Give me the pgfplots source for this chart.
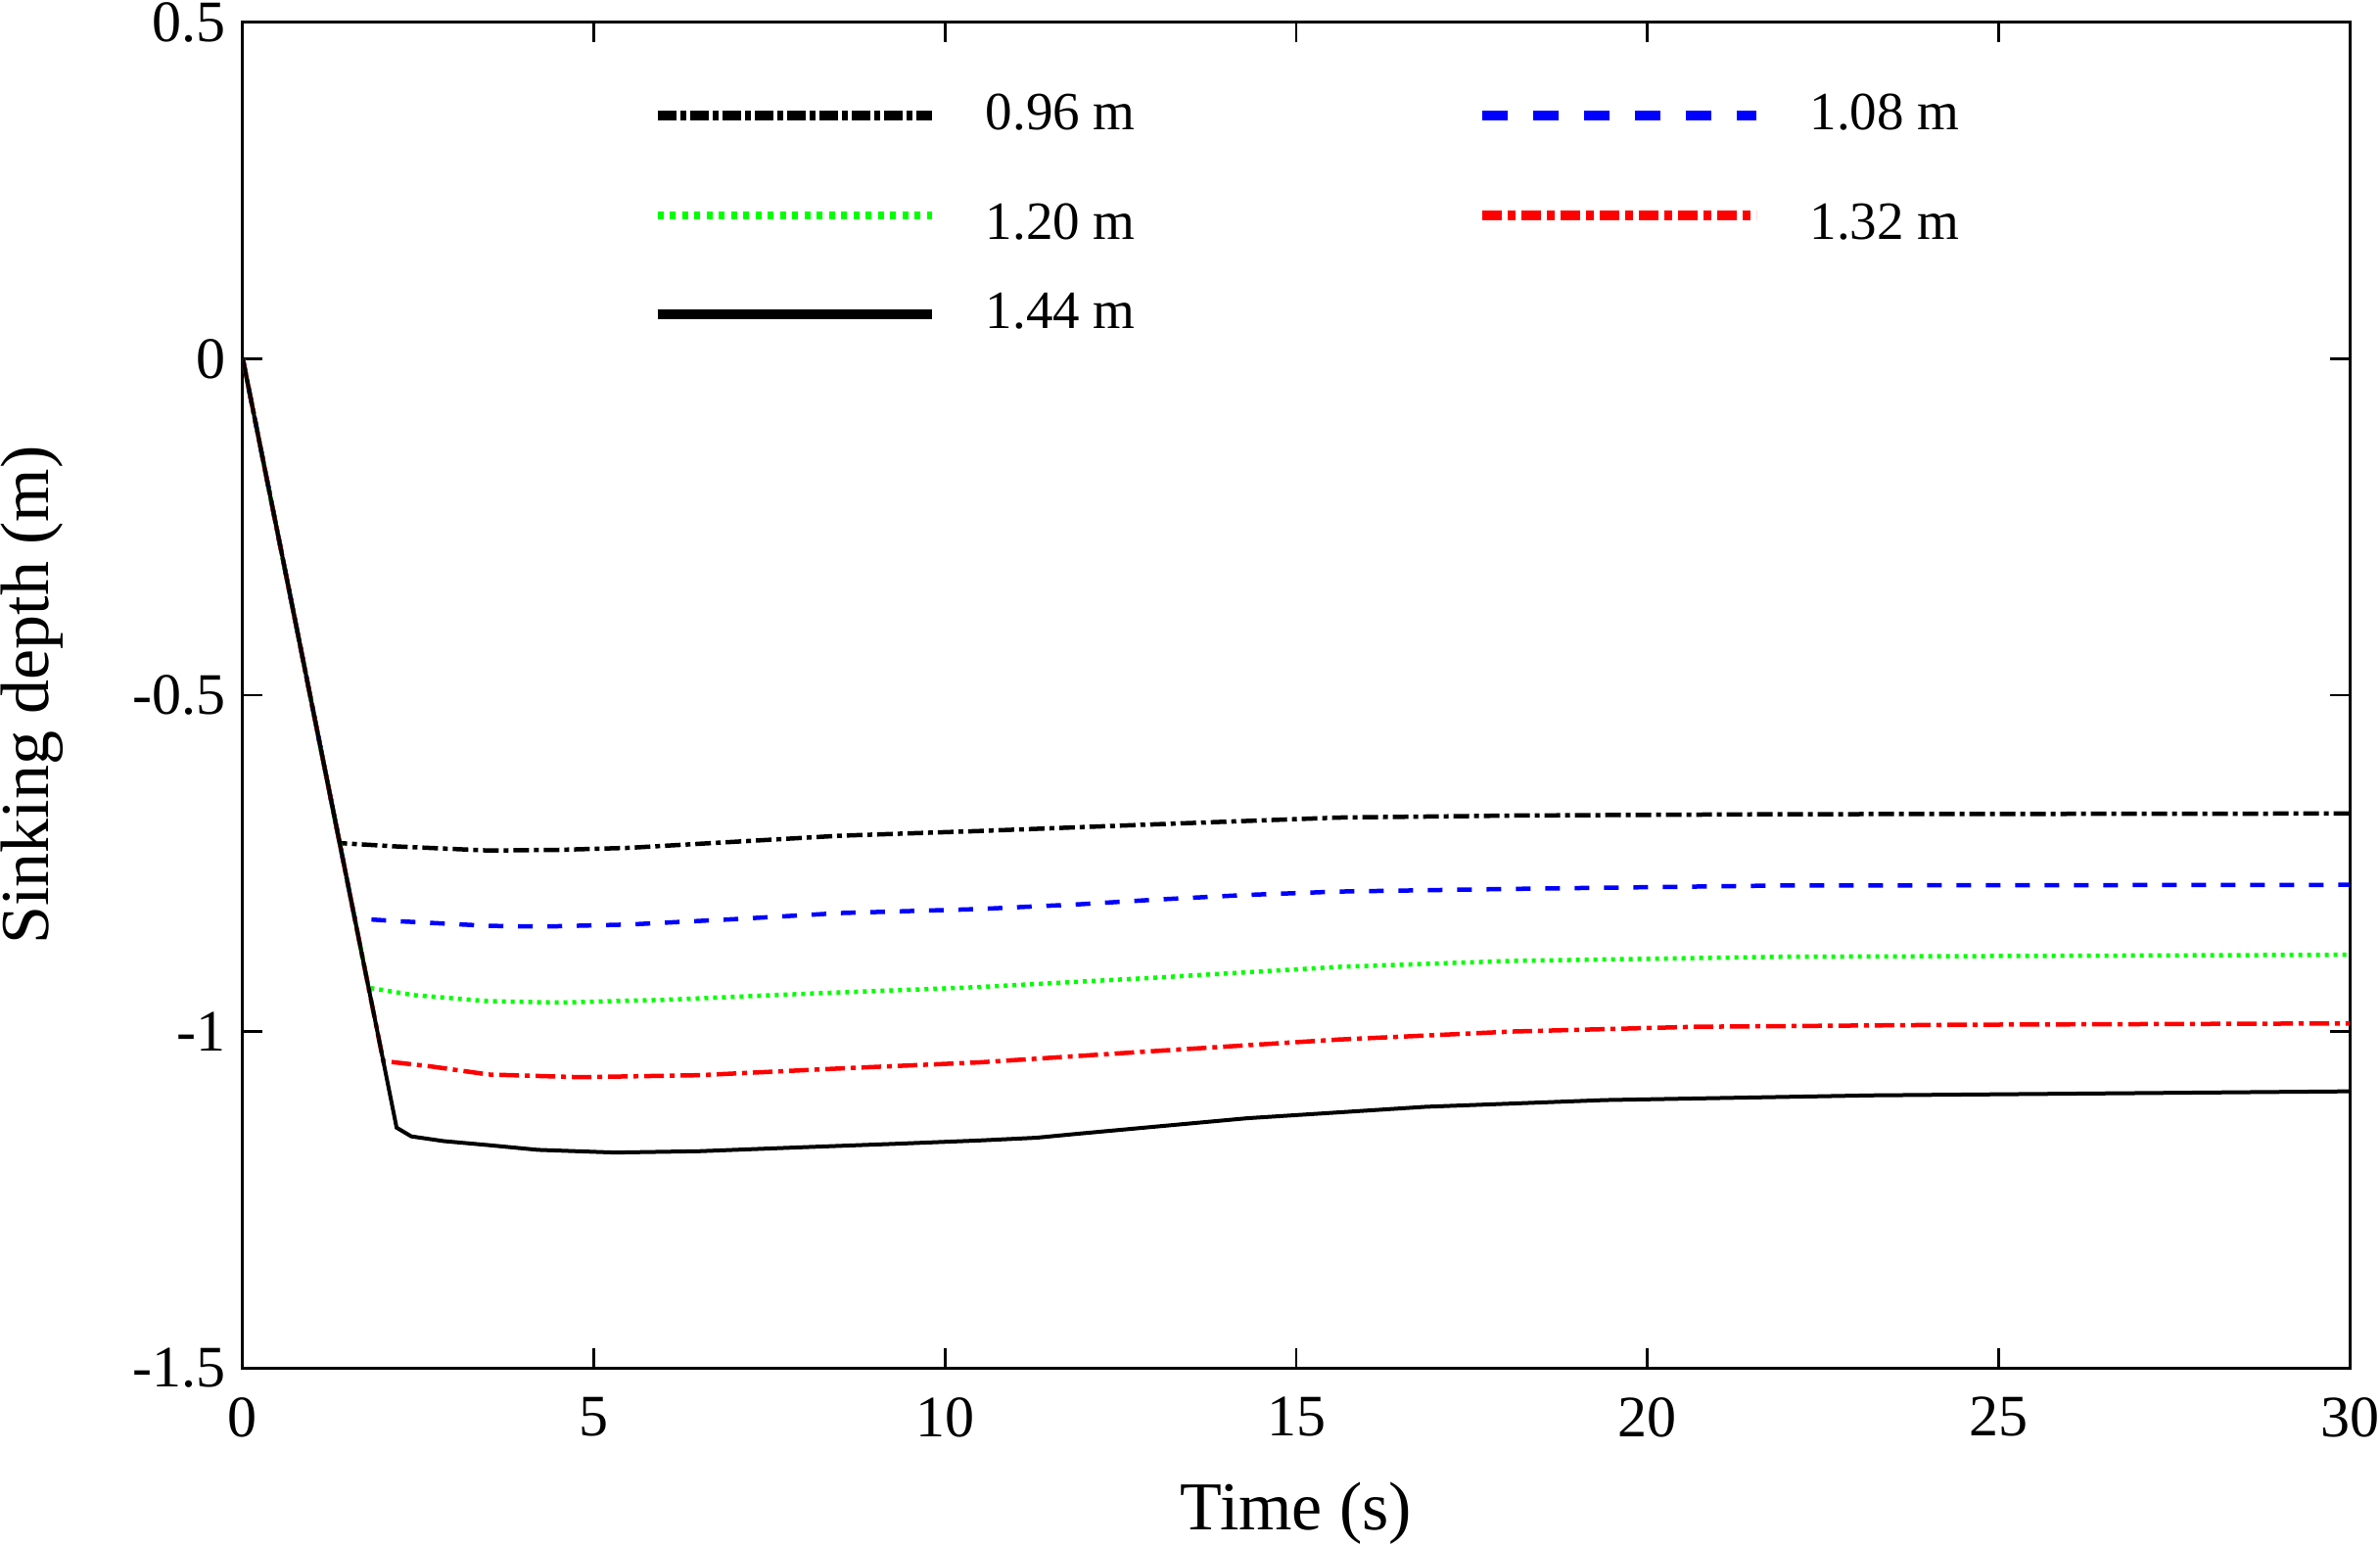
\documentclass[border=0pt]{standalone}
\usepackage{fontspec}
\setmainfont{Liberation Serif}
\usepackage{pgfplots}
\pgfplotsset{compat=1.18}
\newcommand{\tallrow}{\rule{0pt}{11.6pt}}
\begin{document}
\begin{tikzpicture}
\begin{axis}[
  scale only axis, width=430.4pt, height=274.8pt,
  xmin=0, xmax=30, ymin=-1.5, ymax=0.5,
  xtick={0,5,...,30}, ytick={-1.5,-1,-0.5,0,0.5},
  tick align=inside, major tick length=4pt,
  tick style={black, line width=0.5pt},
  axis line style={line width=0.6pt},
  /pgf/number format/assume math mode=true,
  ticklabel style={font=\fontsize{12}{14}\selectfont},
  xticklabel style={yshift=-2.5pt},
  xlabel={Time (s)}, ylabel={Sinking depth (m)},
  label style={font=\fontsize{14}{16}\selectfont},
  xlabel style={at={(axis description cs:0.5,-0.1201)}, anchor=base},
  ylabel style={at={(axis description cs:-0.0999,0.5)}, anchor=center},
  legend columns=2,
  legend style={at={(axis description cs:0.1942,0.9546)}, anchor=north west,
    draw=none, fill=none, inner sep=0pt, row sep=5.3pt, column sep=8pt,
    font=\fontsize{11}{13}\selectfont,
    /tikz/every even column/.append style={column sep=67.8pt}},
  legend image code/.code={\draw[#1] (0pt,0pt) -- (56pt,0pt);},
]
\addlegendimage{black, line width=2pt, dash pattern=on 3.8pt off 0.8pt on 1.2pt off 0.8pt}
\addlegendimage{blue, line width=2pt, dash pattern=on 5.2pt off 5.2pt}
\addlegendimage{green, line width=1.6pt, dash pattern=on 1.2pt off 1.3pt}
\addlegendimage{red, line width=2pt, dash pattern=on 4pt off 1.2pt on 1.6pt off 1.2pt}
\addlegendimage{black, line width=2pt}
\legend{0.96 m, 1.08 m, 1.20 m\tallrow, 1.32 m\tallrow, 1.44 m}

% 0.96 m
\addplot[forget plot, black, line width=0.9pt, dash pattern=on 3.2pt off 1pt on 1pt off 1pt] coordinates {
(0,0) (1.38,-0.720) (2.2,-0.725) (3.5,-0.731) (4.5,-0.730) (5.5,-0.727) (7,-0.718)
(8.5,-0.709) (10.48,-0.702) (13,-0.692) (15.6,-0.682) (18.1,-0.679) (21.9,-0.677) (30,-0.676)};
% 1.08 m
\addplot[forget plot, blue, line width=0.9pt, dash pattern=on 3pt off 3pt] coordinates {
(0,0) (1.594,-0.832) (2.2,-0.836) (3.5,-0.843) (4.3,-0.844) (5.5,-0.841) (7,-0.833)
(8.5,-0.824) (10.48,-0.818) (11.9,-0.811) (13,-0.804) (14.3,-0.797) (15.6,-0.792)
(18.1,-0.788) (21.9,-0.783) (30,-0.782)};
% 1.20 m
\addplot[forget plot, green, line width=0.9pt, dash pattern=on 0.8pt off 1pt] coordinates {
(0,0) (1.791,-0.935) (2.44,-0.946) (3.5,-0.955) (4.5,-0.957) (6,-0.953) (8,-0.944)
(10.48,-0.934) (13,-0.920) (15.6,-0.904) (18.1,-0.895) (21.9,-0.889) (30,-0.886)};
% 1.32 m
\addplot[forget plot, red, line width=0.9pt, dash pattern=on 4pt off 1.2pt on 1pt off 1.2pt] coordinates {
(0,0) (2.0,-1.044) (2.68,-1.052) (3.5,-1.064) (4.8,-1.068) (6.5,-1.065) (8.5,-1.055)
(10.48,-1.046) (13,-1.029) (15.6,-1.012) (18.1,-1.000) (20.7,-0.993) (24.5,-0.990) (30,-0.988)};
% 1.44 m
\addplot[forget plot, black, line width=0.8pt] coordinates {
(0,0) (2.19,-1.143) (2.40,-1.156) (2.86,-1.163) (3.5,-1.169) (4.2,-1.176) (5.3,-1.180)
(6.5,-1.178) (8,-1.172) (9.3,-1.167) (10.5,-1.162) (11.3,-1.158) (11.9,-1.152) (14.3,-1.129)
(16.84,-1.112) (19.39,-1.102) (23.2,-1.095) (30,-1.089)};
\end{axis}
\pgfresetboundingbox
\path ([xshift=-49.6pt,yshift=-36pt]current axis.south west) rectangle ([xshift=6.2pt,yshift=4.6pt]current axis.north east);
\end{tikzpicture}
\end{document}
